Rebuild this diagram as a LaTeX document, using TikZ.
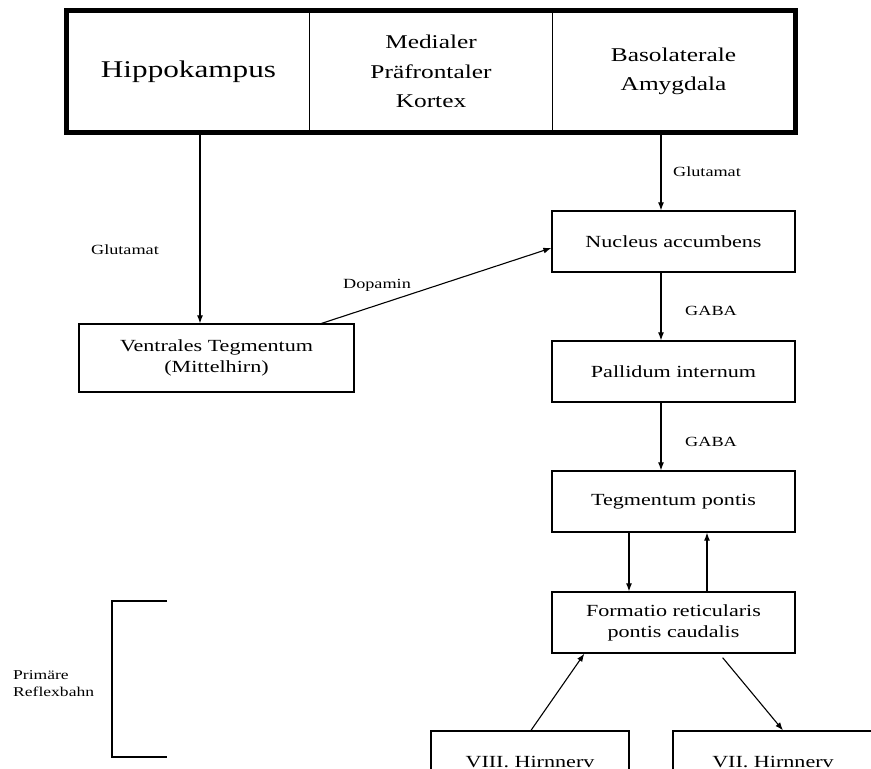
\documentclass[tikz,border=0pt]{standalone}
\usepackage{fontspec}
\setmainfont[FakeStretch=1.3]{Liberation Serif}
\usetikzlibrary{arrows.meta}

\begin{document}
\begin{tikzpicture}[x=1pt,y=-1pt,
  cell/.style={draw,line width=1.3pt,align=center,inner sep=0pt,
    minimum width=242.33pt,minimum height=121pt,
    font=\fontsize{19.5}{29.5}\selectfont},
  box/.style={draw,line width=1.3pt,align=center,inner sep=0pt,
    minimum height=61pt,font=\fontsize{17}{21}\selectfont},
  lbl/.style={inner sep=0pt,font=\fontsize{14}{17}\selectfont},
  conn/.style={line width=1.1pt,-{Latex[length=8pt,width=6pt]}}]
  \useasboundingbox (0,0) rectangle (871,769);
  \clip (0,0) rectangle (871,769);

  % top row
  \node[cell,font=\fontsize{24}{29}\selectfont] (hippo) at (188.5,71.5) {Hippokampus};
  \node[cell] (mpfc) at (431,71.5) {Medialer\\Präfrontaler\\Kortex};
  \node[cell] (bla) at (673.5,71.5) {Basolaterale\\Amygdala};
  \draw[line width=4.5pt] (hippo.north west) rectangle (bla.south east);

  % boxes
  \node[box,minimum width=275pt,minimum height=68pt] (vta) at (216.5,358) {Ventrales Tegmentum\\(Mittelhirn)};
  \node[box,minimum width=243pt] (nacc) at (673.5,241.5) {Nucleus accumbens};
  \node[box,minimum width=243pt] (pall) at (673.5,371.5) {Pallidum internum};
  \node[box,minimum width=243pt] (tegp) at (673.5,501.5) {Tegmentum pontis};
  \node[box,minimum width=243pt] (frpc) at (673.5,622.5) {Formatio reticularis\\pontis caudalis};
  \node[box,minimum width=198pt] (viii) at (530,761.5) {VIII. Hirnnerv};
  \node[box,minimum width=200pt] (vii) at (773,761.5) {VII. Hirnnerv};

  % labels
  \node[lbl] (gluhip) at (125,250) {Glutamat};
  \node[lbl] (dopa) at (377,285) {Dopamin};
  \node[lbl] (glubla) at (707,172) {Glutamat};
  \node[lbl] (gabanacc) at (711,311) {GABA};
  \node[lbl] (gabapall) at (711,442) {GABA};
  \node[lbl,align=left,anchor=west,font=\fontsize{13.5}{17}\selectfont] (refl) at (13,683.5) {Primäre\\Reflexbahn};

  % arrows
  \draw[conn] ([xshift=11.5pt]hippo.south) -- ([xshift=-16.5pt]vta.north);
  \draw[conn] ([xshift=-12.5pt]bla.south) -- ([xshift=-12.5pt]nacc.north);
  \draw[conn] ([xshift=-33pt]vta.north east) -- ([yshift=-6.5pt]nacc.west);
  \draw[conn] ([xshift=-12.5pt]nacc.south) -- ([xshift=-12.5pt]pall.north);
  \draw[conn] ([xshift=-12.5pt]pall.south) -- ([xshift=-12.5pt]tegp.north);
  \draw[conn] ([xshift=-44.5pt]tegp.south) -- ([xshift=-44.5pt]frpc.north);
  \draw[conn] ([xshift=33.5pt]frpc.north) -- ([xshift=33.5pt]tegp.south);
  \draw[conn] ([xshift=1pt]viii.north) -- ([xshift=33pt]frpc.south west);
  \draw[conn] ([xshift=-73pt,yshift=-4pt]frpc.south east) -- ([xshift=10pt]vii.north);

  % bracket
  \draw[line width=1.5pt] (167,601) -- (112,601) -- (112,757) -- (167,757);
\end{tikzpicture}
\end{document}
